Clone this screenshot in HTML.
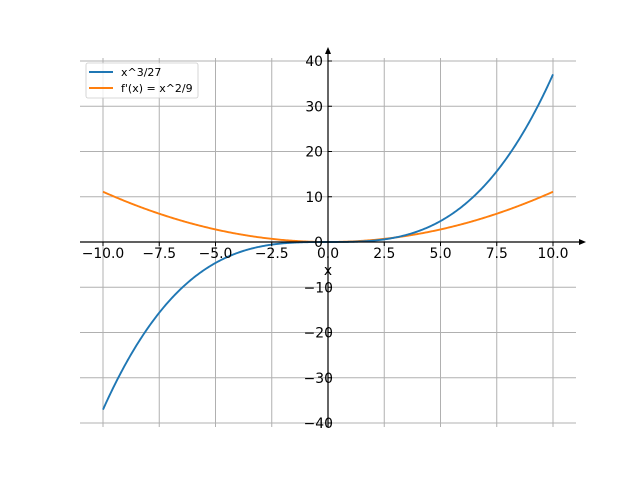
<!DOCTYPE html>
<html><head><meta charset="utf-8"><style>body{margin:0;background:#fff}svg{display:block}text{font-family:"DejaVu Sans","Liberation Sans",sans-serif;font-size:13.9px;fill:#000}</style></head>
<body>
<svg id="s" width="640" height="480" xmlns="http://www.w3.org/2000/svg">
<g id="grid" stroke="#b0b0b0" stroke-width="1"></g>
<path id="p2" fill="none" stroke="#ff7f0e" stroke-width="1.9"/>
<path id="p1" fill="none" stroke="#1f77b4" stroke-width="1.9"/>
<line x1="80" y1="242" x2="584" y2="242" stroke="#000" stroke-width="1.2"/>
<line x1="328" y1="427" x2="328" y2="50" stroke="#000" stroke-width="1.2"/>
<polygon points="586,242 579,239 579,245" fill="#000"/>
<polygon points="328,47 325,54 331,54" fill="#000"/>
<g id="ticks" stroke="#000" stroke-width="1"></g>
<g id="labels"></g>
<text x="328" y="275" text-anchor="middle">x</text>
<rect x="86" y="63" width="112" height="35" rx="2" fill="#fff" fill-opacity="0.8" stroke="#ccc" stroke-width="0.8"/>
<line x1="89" y1="72" x2="113" y2="72" stroke="#1f77b4" stroke-width="1.9"/>
<line x1="89" y1="88" x2="113" y2="88" stroke="#ff7f0e" stroke-width="1.9"/>
<text x="121" y="76" style="font-size:11px">x^3/27</text>
<text x="121" y="92" style="font-size:11px">f'(x) = x^2/9</text>
</svg>
<script>
var X=function(v){return 328+v*22.5},Y=function(v){return 242-v*4.525};
var ns="http://www.w3.org/2000/svg",g=document.getElementById('grid'),t=document.getElementById('ticks'),L=document.getElementById('labels');
function el(p,n,a,txt){var e=document.createElementNS(ns,n);for(var k in a)e.setAttribute(k,a[k]);if(txt)e.textContent=txt;p.appendChild(e);}
for(var i=-4;i<=4;i++){var v=i*2.5,x=X(v);el(g,'line',{x1:x,y1:58,x2:x,y2:427});el(t,'line',{x1:x,y1:242,x2:x,y2:246});
el(L,'text',{x:x,y:258,'text-anchor':'middle'},v.toFixed(1).replace('-','\u2212'));}
for(var j=-4;j<=4;j++){var v=j*10,y=Y(v);el(g,'line',{x1:80,y1:y,x2:576,y2:y});el(t,'line',{x1:328,y1:y,x2:332,y2:y});
el(L,'text',{x:v<0?333:323,y:y+5,'text-anchor':'end'},String(v).replace('-','\u2212'));}
var a='',b='';for(var k=0;k<=400;k++){var x=-10+k*0.05;a+=(k?'L':'M')+X(x).toFixed(2)+','+Y(x*x*x/27).toFixed(2);b+=(k?'L':'M')+X(x).toFixed(2)+','+Y(x*x/9).toFixed(2);}
document.getElementById('p1').setAttribute('d',a);document.getElementById('p2').setAttribute('d',b);
</script>
</body></html>
